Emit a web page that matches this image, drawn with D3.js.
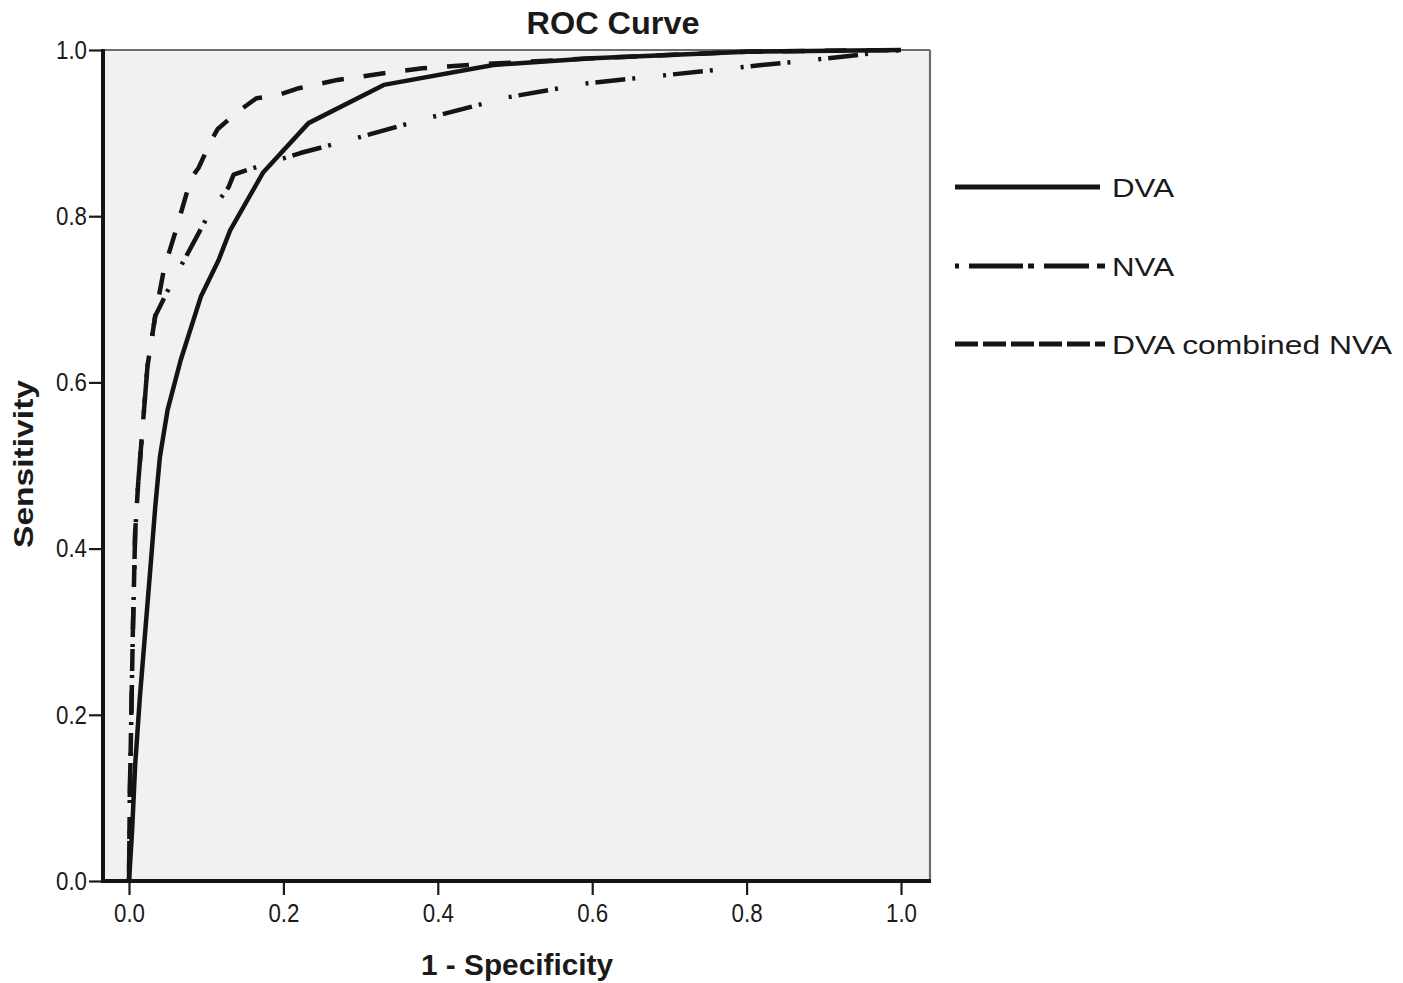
<!DOCTYPE html>
<html>
<head>
<meta charset="utf-8">
<script src="https://cdn.jsdelivr.net/npm/d3@7"></script>
<style>
  html, body { margin: 0; padding: 0; background: #ffffff; }
  svg text { font-family: "Liberation Sans", Arial, sans-serif; fill: #1a1a1a; }
</style>
</head>
<body>
<svg id="chart" width="1403" height="983"></svg>
<script>
// ---- data ----
const xTicks = [0, 0.2, 0.4, 0.6, 0.8, 1.0];
const yTicks = [0, 0.2, 0.4, 0.6, 0.8, 1.0];

const dvaPoints = [
  [0, 0], [0.004, 0.06], [0.008, 0.14], [0.014, 0.22], [0.021, 0.30], [0.028, 0.38],
  [0.034, 0.45], [0.040, 0.51], [0.050, 0.567], [0.067, 0.627], [0.093, 0.703],
  [0.116, 0.747], [0.131, 0.783], [0.174, 0.853], [0.2325, 0.912], [0.33, 0.958],
  [0.472, 0.982], [0.60, 0.99], [0.80, 0.998], [1.0, 1.0]
];
const nvaPoints = [
  [0, 0], [0.001, 0.10], [0.003, 0.20], [0.005, 0.30], [0.008, 0.42], [0.012, 0.48],
  [0.018, 0.55], [0.024, 0.62], [0.034, 0.68], [0.050, 0.71], [0.073, 0.75],
  [0.102, 0.80], [0.129, 0.835], [0.1355, 0.85], [0.174, 0.862], [0.222, 0.876],
  [0.287, 0.892], [0.387, 0.918], [0.49, 0.943], [0.594, 0.96], [0.698, 0.97],
  [0.80, 0.98], [0.906, 0.99], [1.0, 1.0]
];
const combinedPoints = [
  [0, 0], [0.001, 0.10], [0.003, 0.20], [0.005, 0.30], [0.008, 0.42], [0.012, 0.48],
  [0.018, 0.55], [0.024, 0.62], [0.034, 0.68], [0.045, 0.735], [0.063, 0.79],
  [0.080, 0.845], [0.090, 0.858], [0.106, 0.89], [0.115, 0.905], [0.14, 0.925],
  [0.165, 0.942], [0.19, 0.945], [0.22, 0.954], [0.27, 0.964], [0.33, 0.972],
  [0.38, 0.978], [0.44, 0.982], [0.50, 0.985], [0.60, 0.99], [0.80, 0.998], [1.0, 1.0]
];
const seriesNames = ["DVA", "NVA", "DVA combined NVA"];
const titleText = "ROC Curve";
const xTitle = "1 - Specificity";
const yTitle = "Sensitivity";

// ---- layout ----
const frame = { left: 103, right: 930, top: 50, bottom: 881 };
const svg = d3.select("#chart");

const x = d3.scaleLinear().domain([0, 1]).range([129, 901]);
const y = d3.scaleLinear().domain([0, 1]).range([881, 50]);

// plot background
svg.append("rect")
  .attr("x", frame.left).attr("y", frame.top)
  .attr("width", frame.right - frame.left).attr("height", frame.bottom - frame.top)
  .attr("fill", "#f0f1f3");

// top and right borders (thin gray)
svg.append("line").attr("x1", frame.left).attr("x2", frame.right)
  .attr("y1", frame.top).attr("y2", frame.top)
  .attr("stroke", "#6e6e6e").attr("stroke-width", 2.2);
svg.append("line").attr("x1", frame.right).attr("x2", frame.right)
  .attr("y1", frame.top).attr("y2", frame.bottom)
  .attr("stroke", "#6e6e6e").attr("stroke-width", 2.2);

// curves
const line = d3.line().x(d => x(d[0])).y(d => y(d[1]));
const styles = [
  { data: dvaPoints, dash: null },
  { data: nvaPoints, dash: "3,7,30,7,3,28" },
  { data: combinedPoints, dash: "22,20" }
];
styles.forEach(s => {
  svg.append("path")
    .attr("d", line(s.data))
    .attr("fill", "none")
    .attr("stroke", "#141414")
    .attr("stroke-width", 4.5)
    .attr("stroke-linejoin", "round")
    .attr("stroke-dasharray", s.dash);
});

// axes
const fmt = d3.format(".1f");
const yAxis = svg.append("g")
  .attr("transform", `translate(${frame.left},0)`)
  .call(d3.axisLeft(y).tickValues(yTicks).tickFormat(fmt).tickSize(14).tickPadding(2));
const xAxis = svg.append("g")
  .attr("transform", `translate(0,${frame.bottom})`)
  .call(d3.axisBottom(x).tickValues(xTicks).tickFormat(fmt).tickSize(14).tickPadding(9));
[xAxis, yAxis].forEach(a => {
  a.select(".domain").remove();
  a.selectAll(".tick line").attr("stroke", "#1a1a1a").attr("stroke-width", 2.2);
  a.selectAll(".tick text")
    .attr("font-family", "'Liberation Sans', Arial, sans-serif")
    .attr("font-size", 26)
    .attr("textLength", 31)
    .attr("lengthAdjust", "spacingAndGlyphs")
    .attr("fill", "#1a1a1a");
});

// thick left and bottom axis lines
svg.append("line").attr("x1", frame.left).attr("x2", frame.left)
  .attr("y1", frame.top - 1).attr("y2", frame.bottom + 2)
  .attr("stroke", "#141414").attr("stroke-width", 4);
svg.append("line").attr("x1", frame.left - 2).attr("x2", frame.right + 1)
  .attr("y1", frame.bottom).attr("y2", frame.bottom)
  .attr("stroke", "#141414").attr("stroke-width", 4);

// titles
svg.append("text")
  .attr("x", 613).attr("y", 34)
  .attr("text-anchor", "middle")
  .attr("font-weight", "bold").attr("font-size", 31)
  .attr("textLength", 173).attr("lengthAdjust", "spacingAndGlyphs")
  .text(titleText);
svg.append("text")
  .attr("x", 517).attr("y", 975)
  .attr("text-anchor", "middle")
  .attr("font-weight", "bold").attr("font-size", 29)
  .attr("textLength", 192).attr("lengthAdjust", "spacingAndGlyphs")
  .text(xTitle);
svg.append("text")
  .attr("transform", "translate(33,464) rotate(-90)")
  .attr("text-anchor", "middle")
  .attr("font-weight", "bold").attr("font-size", 27)
  .attr("textLength", 168).attr("lengthAdjust", "spacingAndGlyphs")
  .text(yTitle);

// legend
const legendY = [187, 266, 344];
const legendDash = [null, "4,10,54,5,6,10,45,8,9", "23,5"];
const legendEnd = [1100, 1105, 1105];
const legendTextLen = [62, 62, 280];
seriesNames.forEach((name, i) => {
  svg.append("line")
    .attr("x1", 955).attr("x2", legendEnd[i])
    .attr("y1", legendY[i]).attr("y2", legendY[i])
    .attr("stroke", "#141414").attr("stroke-width", 5)
    .attr("stroke-dasharray", legendDash[i]);
  svg.append("text")
    .attr("x", 1112).attr("y", legendY[i] + 10)
    .attr("font-size", 26)
    .attr("textLength", legendTextLen[i]).attr("lengthAdjust", "spacingAndGlyphs")
    .text(name);
});
</script>
</body>
</html>
